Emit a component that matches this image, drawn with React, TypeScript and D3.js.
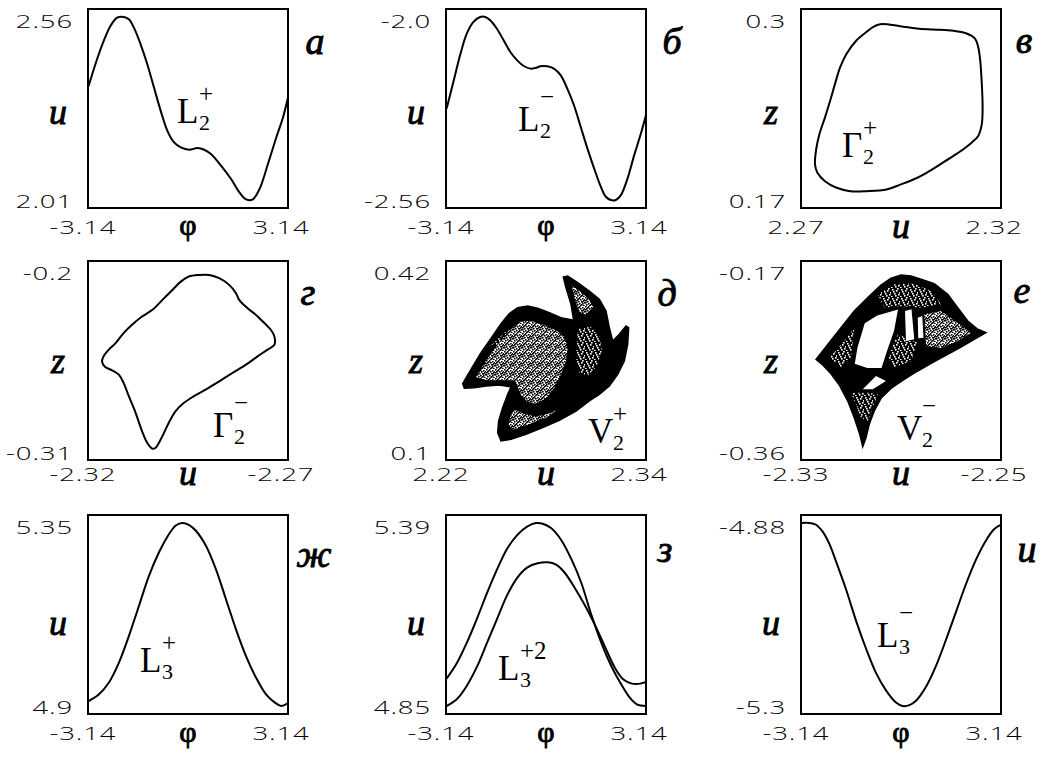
import * as d3 from "d3";

type Pt = [number, number];

const W = 1053;
const H = 758;

// frame grid (left edges of columns, top edges of rows)
const COLS = [88, 446, 801];
const ROWS = [9, 261, 515];
const FW = 200;
const FH = 199;

// ---- data ----
const phiDomain: Pt = [-3.14, 3.14];
const phiTicks = ["-3.14", "3.14"];

// а: L2+
const curveL2p: Pt[] = [
  [-3.12, 2.353], [-2.856, 2.433], [-2.646, 2.488], [-2.435, 2.533], [-2.225, 2.558],
  [-2.014, 2.56], [-1.857, 2.553], [-1.699, 2.528], [-1.488, 2.478], [-1.278, 2.418],
  [-1.068, 2.348], [-0.857, 2.278], [-0.647, 2.218], [-0.437, 2.183], [-0.226, 2.168],
  [0.037, 2.161], [0.3, 2.166], [0.51, 2.161], [0.721, 2.148], [1.036, 2.113],
  [1.352, 2.073], [1.615, 2.033], [1.825, 2.012], [2.036, 2.012], [2.246, 2.043],
  [2.509, 2.118], [2.772, 2.198], [2.982, 2.258], [3.14, 2.318],
];

// б: L2-
const curveL2m: Pt[] = [
  [-3.119, -2.28], [-2.909, -2.199], [-2.698, -2.117], [-2.488, -2.051], [-2.277, -2.015],
  [-2.067, -2.0], [-1.909, -2.0], [-1.751, -2.01], [-1.541, -2.036], [-1.331, -2.071],
  [-1.12, -2.107], [-0.91, -2.132], [-0.7, -2.15], [-0.489, -2.158], [-0.331, -2.156],
  [-0.174, -2.151], [0.037, -2.151], [0.247, -2.158], [0.458, -2.178], [0.668, -2.219],
  [0.878, -2.27], [1.089, -2.336], [1.299, -2.402], [1.51, -2.463], [1.72, -2.519],
  [1.878, -2.55], [2.035, -2.56], [2.193, -2.56], [2.351, -2.545], [2.561, -2.494],
  [2.772, -2.422], [2.982, -2.356], [3.14, -2.3],
];

// в: Г2+ (u, z)
const cycleG2p: Pt[] = [
  [2.2898, 0.2901], [2.2948, 0.2888], [2.2989, 0.2873], [2.3031, 0.2866], [2.3081, 0.2858],
  [2.3114, 0.284], [2.3135, 0.2807], [2.3143, 0.2752], [2.3148, 0.2665], [2.3152, 0.2511],
  [2.3154, 0.2358], [2.3152, 0.2248], [2.3143, 0.2171], [2.3127, 0.2128], [2.3106, 0.2084],
  [2.3081, 0.204], [2.3048, 0.1985], [2.3014, 0.193], [2.2981, 0.1886], [2.2948, 0.1853],
  [2.2914, 0.1821], [2.2864, 0.181], [2.2823, 0.181], [2.2789, 0.1832], [2.276, 0.1875],
  [2.2741, 0.193], [2.2735, 0.1985], [2.2738, 0.2084], [2.2746, 0.2182], [2.276, 0.2292],
  [2.2773, 0.2402], [2.2785, 0.2511], [2.2798, 0.2621], [2.2814, 0.2708], [2.2839, 0.2796],
  [2.2864, 0.2851], [2.2881, 0.2884],
];

// г: Г2- (u, z)
const cycleG2m: Pt[] = [
  [-2.2948, -0.2086], [-2.2922, -0.2077], [-2.2897, -0.2077], [-2.2872, -0.2095], [-2.2847, -0.2132],
  [-2.283, -0.2178], [-2.2822, -0.2215], [-2.2801, -0.2261], [-2.278, -0.2298], [-2.2759, -0.2343],
  [-2.2743, -0.238], [-2.2734, -0.2417], [-2.2734, -0.2463], [-2.2751, -0.249], [-2.2776, -0.2527],
  [-2.2805, -0.2573], [-2.2839, -0.2619], [-2.2872, -0.2665], [-2.2906, -0.2711], [-2.2935, -0.2747],
  [-2.296, -0.2784], [-2.2981, -0.283], [-2.2998, -0.2894], [-2.3014, -0.2968], [-2.3031, -0.3032],
  [-2.3039, -0.3038], [-2.3052, -0.3005], [-2.3065, -0.294], [-2.3081, -0.2839], [-2.3098, -0.2747],
  [-2.3111, -0.2674], [-2.3123, -0.2628], [-2.314, -0.2604], [-2.3157, -0.2586], [-2.3165, -0.2555],
  [-2.3161, -0.2527], [-2.3148, -0.249], [-2.3131, -0.2454], [-2.3111, -0.2399], [-2.309, -0.2353],
  [-2.3065, -0.2307], [-2.3039, -0.227], [-2.3014, -0.2215], [-2.2989, -0.216], [-2.2968, -0.2114],
];

// д: V2+ attractor, region outlines (u, z)
const v2pOuter: Pt[] = [
  [2.23, 0.2228], [2.235, 0.2458], [2.241, 0.2726], [2.247, 0.2956], [2.253, 0.3192],
  [2.258, 0.3353], [2.263, 0.345], [2.269, 0.3476], [2.275, 0.3439], [2.282, 0.3369],
  [2.289, 0.3289], [2.2966, 0.3246], [2.295, 0.3503], [2.292, 0.3771], [2.2904, 0.3943],
  [2.293, 0.3959], [2.299, 0.3852], [2.306, 0.3718], [2.312, 0.3584], [2.316, 0.3396],
  [2.318, 0.3128], [2.32, 0.2914], [2.324, 0.3021], [2.328, 0.3155], [2.3296, 0.3128],
  [2.329, 0.286], [2.327, 0.2592], [2.323, 0.2378], [2.318, 0.219], [2.312, 0.2056],
  [2.306, 0.1949], [2.298, 0.1788], [2.288, 0.1638], [2.278, 0.152], [2.268, 0.1413],
  [2.259, 0.1332], [2.253, 0.1306], [2.251, 0.144], [2.2516, 0.1627], [2.254, 0.1842],
  [2.257, 0.2056], [2.259, 0.2174], [2.252, 0.2206], [2.244, 0.219], [2.237, 0.2163],
  [2.231, 0.2153],
];
const v2pLight: Pt[][] = [
  [
    [2.238, 0.2331], [2.244, 0.2599], [2.251, 0.2857], [2.258, 0.3088], [2.264, 0.3222],
    [2.271, 0.3238], [2.279, 0.3168], [2.286, 0.3088], [2.291, 0.2981], [2.293, 0.2806],
    [2.292, 0.2592], [2.289, 0.2378], [2.285, 0.2163], [2.281, 0.2022], [2.277, 0.1935],
    [2.273, 0.1902], [2.269, 0.1935], [2.265, 0.2042], [2.263, 0.2183], [2.261, 0.2277],
    [2.254, 0.2283], [2.245, 0.2277],
  ],
  [
    [2.261, 0.1812], [2.267, 0.1741], [2.274, 0.1698], [2.281, 0.1741], [2.287, 0.1818],
    [2.281, 0.1691], [2.273, 0.1608], [2.266, 0.1536], [2.26, 0.1486], [2.2576, 0.1567],
    [2.2586, 0.1698],
  ],
  [
    [2.2954, 0.3812], [2.3, 0.372], [2.306, 0.358], [2.3084, 0.3459], [2.304, 0.3339],
    [2.3, 0.3382], [2.2976, 0.3557],
  ],
];
const v2pMid: Pt[][] = [
  [
    [2.299, 0.3108], [2.307, 0.3142], [2.312, 0.2994], [2.3136, 0.2753], [2.3104, 0.2505],
    [2.305, 0.2353], [2.3, 0.2398], [2.298, 0.2646],
  ],
  [
    [2.247, 0.2847], [2.255, 0.3048], [2.262, 0.3152], [2.266, 0.3002], [2.258, 0.2857],
  ],
];

// е: V2- attractor (u, z)
const v2mOuter: Pt[] = [
  [-2.324, -0.2639], [-2.3193, -0.2496], [-2.314, -0.2337], [-2.3087, -0.2177], [-2.3033, -0.205],
  [-2.298, -0.1929], [-2.294, -0.1865], [-2.29, -0.1834], [-2.286, -0.1843], [-2.282, -0.1875],
  [-2.2767, -0.1916], [-2.2713, -0.2018], [-2.2673, -0.2146], [-2.2633, -0.2273], [-2.2593, -0.2352],
  [-2.256, -0.2384], [-2.2607, -0.2448], [-2.266, -0.2521], [-2.2713, -0.2591], [-2.2767, -0.2661],
  [-2.2833, -0.275], [-2.2887, -0.283], [-2.294, -0.2916], [-2.298, -0.3011], [-2.3007, -0.3132],
  [-2.3027, -0.3259], [-2.304, -0.3387], [-2.3053, -0.3473], [-2.3065, -0.3355], [-2.3087, -0.3196],
  [-2.3113, -0.3037], [-2.3147, -0.2884], [-2.318, -0.2776], [-2.3213, -0.2693],
];
const v2mLight: Pt[][] = [
  [
    [-2.2807, -0.2209], [-2.274, -0.2177], [-2.2673, -0.2289], [-2.262, -0.2384], [-2.2673, -0.2464],
    [-2.274, -0.2534], [-2.28, -0.2512],
  ],
];
const v2mMid: Pt[][] = [
  [
    [-2.2993, -0.2018], [-2.2927, -0.1923], [-2.2847, -0.1916], [-2.278, -0.1986], [-2.274, -0.2114],
    [-2.282, -0.2146], [-2.29, -0.213], [-2.2967, -0.2146],
  ],
  [
    [-2.31, -0.2957], [-2.3033, -0.2957], [-2.2993, -0.2973], [-2.3013, -0.31], [-2.3033, -0.3228],
    [-2.306, -0.3196], [-2.308, -0.3069],
  ],
  [
    [-2.2953, -0.2623], [-2.2913, -0.24], [-2.2833, -0.248], [-2.286, -0.2655], [-2.2927, -0.2718],
  ],
  [
    [-2.3187, -0.2623], [-2.3127, -0.2464], [-2.3087, -0.2337], [-2.31, -0.2623], [-2.314, -0.2718],
  ],
];
const v2mHoles: Pt[][] = [
  [
    [-2.3085, -0.2681], [-2.3074, -0.2527], [-2.3045, -0.2295], [-2.2995, -0.2221], [-2.2912, -0.2164],
    [-2.2928, -0.2368], [-2.2955, -0.2553], [-2.2978, -0.2722], [-2.3035, -0.2722],
  ],
  [[-2.2884, -0.2177], [-2.2858, -0.2161], [-2.2847, -0.2448], [-2.288, -0.2464]],
  [[-2.2833, -0.2241], [-2.2815, -0.2225], [-2.281, -0.2432], [-2.2831, -0.2438]],
  [[-2.3053, -0.2925], [-2.3, -0.2798], [-2.296, -0.2846], [-2.3013, -0.2925]],
];

// ж: L3+
const curveL3p: Pt[] = [
  [-3.119, 4.912], [-2.803, 4.928], [-2.488, 4.957], [-2.172, 5.006], [-1.857, 5.072],
  [-1.541, 5.146], [-1.226, 5.22], [-0.91, 5.278], [-0.594, 5.323], [-0.384, 5.344],
  [-0.174, 5.35], [0.037, 5.345], [0.247, 5.331], [0.563, 5.294], [0.878, 5.236],
  [1.194, 5.162], [1.509, 5.088], [1.825, 5.022], [2.141, 4.969], [2.456, 4.928],
  [2.719, 4.909], [2.93, 4.9], [3.14, 4.907],
];

// з: L3+2 (two branches)
const curveL3p2a: Pt[] = [
  [-3.119, 4.931], [-2.802, 4.976], [-2.485, 5.037], [-2.167, 5.108], [-1.85, 5.184],
  [-1.533, 5.254], [-1.216, 5.315], [-0.899, 5.355], [-0.582, 5.38], [-0.317, 5.39],
  [-0.106, 5.388], [0.158, 5.375], [0.476, 5.34], [0.793, 5.284], [1.11, 5.213],
  [1.427, 5.118], [1.744, 5.035], [2.061, 4.966], [2.379, 4.911], [2.643, 4.873],
  [2.854, 4.855], [3.14, 4.85],
];
const curveL3p2b: Pt[] = [
  [-3.119, 4.85], [-2.802, 4.87], [-2.485, 4.91], [-2.167, 4.966], [-1.85, 5.037],
  [-1.533, 5.108], [-1.216, 5.178], [-0.899, 5.229], [-0.582, 5.259], [-0.264, 5.271],
  [0.053, 5.274], [0.317, 5.267], [0.581, 5.244], [0.899, 5.199], [1.216, 5.148],
  [1.533, 5.09], [1.85, 5.025], [2.167, 4.962], [2.432, 4.928], [2.696, 4.916],
  [2.96, 4.916], [3.14, 4.921],
];

// и: L3-
const curveL3m: Pt[] = [
  [-3.109, -4.88], [-2.878, -4.88], [-2.669, -4.884], [-2.46, -4.9], [-2.25, -4.928],
  [-2.041, -4.968], [-1.727, -5.032], [-1.413, -5.104], [-1.099, -5.168], [-0.785, -5.224],
  [-0.471, -5.264], [-0.157, -5.292], [0.052, -5.3], [0.262, -5.298], [0.471, -5.288],
  [0.785, -5.256], [1.099, -5.208], [1.413, -5.148], [1.727, -5.084], [2.041, -5.02],
  [2.355, -4.964], [2.669, -4.92], [2.931, -4.894], [3.14, -4.884],
];

type Panel = {
  col: number;
  row: number;
  kind: "line" | "cycle" | "cloud";
  xDomain: Pt;
  yDomain: Pt;
  xTicks: string[];
  yTicks: string[];
  xLabel: string;
  yLabel: string;
  letter: string;
  mark: { base: string; sub: string; sup: string };
  curves?: Pt[][];
  outer?: Pt[];
  light?: Pt[][];
  mid?: Pt[][];
  holes?: Pt[][];
  markAt: Pt;
  letterAt: Pt;
};

const panels: Panel[] = [
  { col: 0, row: 0, kind: "line", xDomain: phiDomain, yDomain: [2.01, 2.56], xTicks: phiTicks, yTicks: ["2.01", "2.56"],
    xLabel: "φ", yLabel: "u", letter: "а", mark: { base: "L", sub: "2", sup: "+" }, curves: [curveL2p], markAt: [89, 114], letterAt: [27, 45] },
  { col: 1, row: 0, kind: "line", xDomain: phiDomain, yDomain: [-2.56, -2.0], xTicks: phiTicks, yTicks: ["-2.56", "-2.0"],
    xLabel: "φ", yLabel: "u", letter: "б", mark: { base: "L", sub: "2", sup: "−" }, curves: [curveL2m], markAt: [72, 122], letterAt: [26, 45] },
  { col: 2, row: 0, kind: "cycle", xDomain: [2.27, 2.32], yDomain: [0.17, 0.3], xTicks: ["2.27", "2.32"], yTicks: ["0.17", "0.3"],
    xLabel: "u", yLabel: "z", letter: "в", mark: { base: "Γ", sub: "2", sup: "+" }, curves: [cycleG2p], markAt: [41, 148], letterAt: [23, 44] },
  { col: 0, row: 1, kind: "cycle", xDomain: [-2.32, -2.27], yDomain: [-0.31, -0.2], xTicks: ["-2.32", "-2.27"], yTicks: ["-0.31", "-0.2"],
    xLabel: "u", yLabel: "z", letter: "г", mark: { base: "Γ", sub: "2", sup: "−" }, curves: [cycleG2m], markAt: [125, 176], letterAt: [20, 44] },
  { col: 1, row: 1, kind: "cloud", xDomain: [2.22, 2.34], yDomain: [0.1, 0.42], xTicks: ["2.22", "2.34"], yTicks: ["0.1", "0.42"],
    xLabel: "u", yLabel: "z", letter: "д", mark: { base: "V", sub: "2", sup: "+" },
    outer: v2pOuter, light: v2pLight, mid: v2pMid, holes: [], markAt: [142, 182], letterAt: [21, 45] },
  { col: 2, row: 1, kind: "cloud", xDomain: [-2.33, -2.25], yDomain: [-0.36, -0.17], xTicks: ["-2.33", "-2.25"], yTicks: ["-0.36", "-0.17"],
    xLabel: "u", yLabel: "z", letter: "е", mark: { base: "V", sub: "2", sup: "−" },
    outer: v2mOuter, light: v2mLight, mid: v2mMid, holes: v2mHoles, markAt: [96, 179], letterAt: [21, 42] },
  { col: 0, row: 2, kind: "line", xDomain: phiDomain, yDomain: [4.9, 5.35], xTicks: phiTicks, yTicks: ["4.9", "5.35"],
    xLabel: "φ", yLabel: "u", letter: "ж", mark: { base: "L", sub: "3", sup: "+" }, curves: [curveL3p], markAt: [52, 157], letterAt: [26, 52] },
  { col: 1, row: 2, kind: "line", xDomain: phiDomain, yDomain: [4.85, 5.39], xTicks: phiTicks, yTicks: ["4.85", "5.39"],
    xLabel: "φ", yLabel: "u", letter: "з", mark: { base: "L", sub: "3", sup: "+2" }, curves: [curveL3p2a, curveL3p2b], markAt: [52, 165], letterAt: [19, 47] },
  { col: 2, row: 2, kind: "line", xDomain: phiDomain, yDomain: [-5.3, -4.88], xTicks: phiTicks, yTicks: ["-5.3", "-4.88"],
    xLabel: "φ", yLabel: "u", letter: "и", mark: { base: "L", sub: "3", sup: "−" }, curves: [curveL3m], markAt: [76, 132], letterAt: [26, 47] },
];

// per-row offsets below the frame: [tick baseline, axis-name baseline]
const ROW_BELOW: Pt[] = [[26, 30], [21, 25], [26, 31]];
const ROW_YNAME = [115, 112, 120];

// advance of the base glyph before its indices
const BASE_ADV: Record<string, number> = { L: 22, "Γ": 21, V: 25 };

// speckle tiles for the attractor clouds
const lightDots: Pt[] = [
  [0, 0], [3, 0], [6, 1], [1, 2], [4, 2], [7, 3], [2, 4], [5, 4], [0, 5], [8, 5],
  [3, 6], [6, 6], [1, 7], [4, 8], [7, 8], [2, 1], [5, 7], [8, 2], [0, 3], [6, 4],
];
const midHoles: Pt[] = [[1, 1], [5, 2], [3, 5], [7, 6], [0, 8], [6, 0], [2, 3], [8, 4], [4, 7]];

const serif = "'Liberation Serif', 'Times New Roman', serif";
const sans = "'Open Sans', 'Liberation Sans', sans-serif";

function Tick({ x, y, text, anchor }: { x: number; y: number; text: string; anchor: "start" | "middle" | "end" }) {
  return (
    <text transform={`translate(${x},${y}) scale(1.45,1)`} textAnchor={anchor} fontFamily={sans} fontSize={19}
      fontWeight={300} letterSpacing={0.6} fill="#000">
      {text}
    </text>
  );
}

function PanelView({ p, i }: { p: Panel; i: number }) {
  const x0 = COLS[p.col];
  const y0 = ROWS[p.row];
  const pad = p.kind === "line" ? 8 : 0;
  const x = d3.scaleLinear().domain(p.xDomain).range([x0, x0 + FW]);
  const y = d3.scaleLinear().domain(p.yDomain).range([y0 + FH - pad, y0 + pad]);
  const open = d3.line<Pt>().x((d) => x(d[0])).y((d) => y(d[1])).curve(d3.curveCatmullRom.alpha(0.5));
  const closed = d3.line<Pt>().x((d) => x(d[0])).y((d) => y(d[1])).curve(d3.curveCatmullRomClosed.alpha(0.5));
  const poly = d3.line<Pt>().x((d) => x(d[0])).y((d) => y(d[1])).curve(d3.curveLinearClosed);
  const [below, nameBelow] = ROW_BELOW[p.row];
  const bottom = y0 + FH;
  const clipId = `clip${i}`;
  const [mx, my] = [x0 + p.markAt[0], y0 + p.markAt[1]];
  const adv = BASE_ADV[p.mark.base] ?? 22;
  const supDy = p.mark.sup === "−" ? -26 : -21;
  const isPhi = p.xLabel === "φ";
  const heavy = { stroke: "#000", strokeWidth: 0.9 };
  return (
    <g>
      <clipPath id={clipId}>
        <rect x={x0} y={y0} width={FW} height={FH} />
      </clipPath>
      <g clipPath={`url(#${clipId})`}>
        {p.kind === "line" &&
          p.curves!.map((c, k) => <path key={k} d={open(c) ?? ""} fill="none" stroke="#000" strokeWidth={2} />)}
        {p.kind === "cycle" &&
          p.curves!.map((c, k) => <path key={k} d={closed(c) ?? ""} fill="none" stroke="#000" strokeWidth={2} />)}
        {p.kind === "cloud" && (
          <g>
            <path d={poly(p.outer!) ?? ""} fill="#000" stroke="#000" strokeWidth={1.5} />
            {p.mid!.map((r, k) => <path key={`m${k}`} d={poly(r) ?? ""} fill="url(#speckMid)" />)}
            {p.light!.map((r, k) => <path key={`l${k}`} d={poly(r) ?? ""} fill="url(#speckLight)" />)}
            {p.holes!.map((r, k) => <path key={`h${k}`} d={poly(r) ?? ""} fill="#fff" />)}
          </g>
        )}
      </g>
      <rect x={x0} y={y0} width={FW} height={FH} fill="none" stroke="#000" strokeWidth={2} />

      <Tick x={x0 - 15} y={y0 + 19} text={p.yTicks[1]} anchor="end" />
      <Tick x={x0 - 15} y={bottom} text={p.yTicks[0]} anchor="end" />
      <Tick x={x(p.xDomain[0]) - 5} y={bottom + below} text={p.xTicks[0]} anchor="middle" />
      <Tick x={x(p.xDomain[1]) - 7} y={bottom + below} text={p.xTicks[1]} anchor="middle" />

      <text x={x0 + FW / 2} y={bottom + nameBelow + (isPhi ? -3 : 0)} textAnchor="middle" fontFamily={serif}
        fontSize={isPhi ? 30 : 36} fontStyle={isPhi ? "normal" : "italic"} {...heavy}>
        {p.xLabel}
      </text>
      <text x={x0 - 30} y={y0 + ROW_YNAME[p.row]} textAnchor="middle" fontFamily={serif} fontSize={36}
        fontStyle="italic" {...heavy}>
        {p.yLabel}
      </text>
      <text x={x0 + FW + p.letterAt[0]} y={y0 + p.letterAt[1]} textAnchor="middle" fontFamily={serif}
        fontSize={38} fontStyle="italic" {...heavy}>
        {p.letter}
      </text>

      <text x={mx} y={my} fontFamily={serif} fontSize={35}>{p.mark.base}</text>
      <text x={mx + adv} y={my + 7} fontFamily={serif} fontSize={22}>{p.mark.sub}</text>
      <text x={mx + adv} y={my + supDy} fontFamily={serif} fontSize={25}>{p.mark.sup}</text>
    </g>
  );
}

export default function App() {
  return (
    <svg width={W} height={H} style={{ position: "absolute", left: 0, top: 0, background: "#fff" }}>
      <defs>
        <pattern id="speckLight" width={9} height={9} patternUnits="userSpaceOnUse">
          <rect width={9} height={9} fill="#fff" />
          {lightDots.map(([a, b], k) => (
            <rect key={k} x={a} y={b} width={1.6} height={1.6} fill="#000" />
          ))}
        </pattern>
        <pattern id="speckMid" width={9} height={9} patternUnits="userSpaceOnUse">
          <rect width={9} height={9} fill="#000" />
          {midHoles.map(([a, b], k) => (
            <rect key={k} x={a} y={b} width={1.6} height={1.6} fill="#fff" />
          ))}
        </pattern>
      </defs>
      <rect width={W} height={H} fill="#fff" />
      {panels.map((p, i) => (
        <PanelView key={i} p={p} i={i} />
      ))}
    </svg>
  );
}
